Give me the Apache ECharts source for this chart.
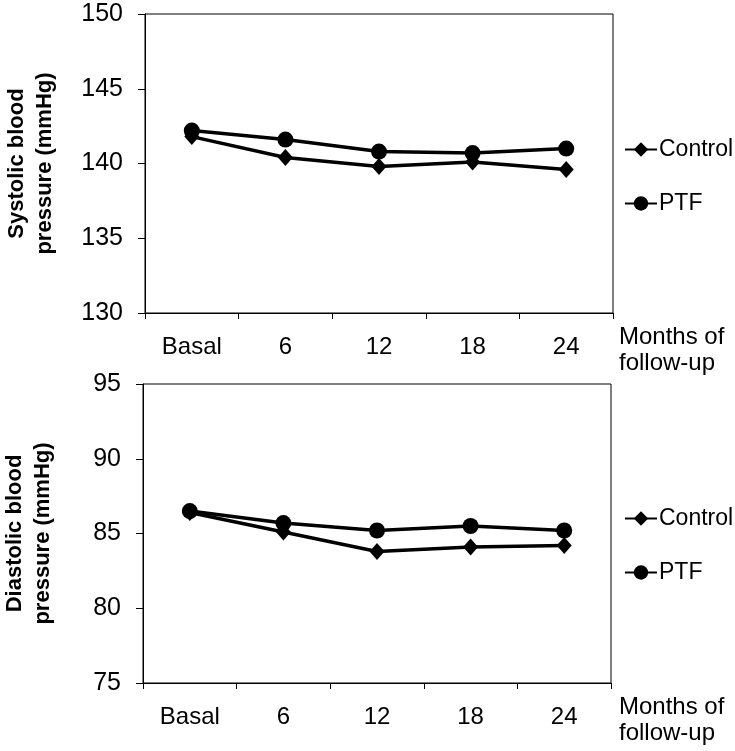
<!DOCTYPE html>
<html>
<head>
<meta charset="utf-8">
<script src="https://cdn.jsdelivr.net/npm/echarts@6/dist/echarts.min.js"></script>
<style>
html,body{margin:0;padding:0;background:#fff;}
#c{width:735px;height:751px;}
</style>
</head>
<body>
<div id="c"></div>
<script>
var categories = ['Basal', '6', '12', '18', '24'];
var seriesNames = ['Control', 'PTF'];
var systolicControl = [141.8, 140.4, 139.8, 140.1, 139.6];
var systolicPTF = [142.2, 141.6, 140.8, 140.7, 141.0];
var diastolicControl = [86.4, 85.1, 83.8, 84.1, 84.2];
var diastolicPTF = [86.5, 85.7, 85.2, 85.5, 85.2];
var systolicAxis = { min: 130, max: 150, interval: 5, title: 'Systolic blood\npressure (mmHg)' };
var diastolicAxis = { min: 75, max: 95, interval: 5, title: 'Diastolic blood\npressure (mmHg)' };
var xAxisTitle = 'Months of\nfollow-up';

var FONT = '"Liberation Sans", Arial, sans-serif';
var chart = echarts.init(document.getElementById('c'), null, { renderer: 'canvas' });

function xAxisCfg(gi) {
  return {
    type: 'category', gridIndex: gi, data: categories, boundaryGap: true,
    axisLine: { show: true, lineStyle: { color: '#000', width: 1 } },
    axisTick: { show: true, inside: false, length: 6, alignWithLabel: false, lineStyle: { color: '#000' } },
    axisLabel: { color: '#000', fontSize: 24, fontFamily: FONT, margin: 22 },
    splitLine: { show: false }
  };
}
function yAxisCfg(gi, ax) {
  return {
    type: 'value', gridIndex: gi, min: ax.min, max: ax.max, interval: ax.interval,
    name: ax.title, nameLocation: 'middle', nameRotate: 90, nameGap: 86,
    nameTextStyle: { color: '#000', fontSize: 22, fontWeight: 'bold', fontFamily: FONT, lineHeight: 28, align: 'center' },
    axisLine: { show: true, lineStyle: { color: '#000', width: 1 } },
    axisTick: { show: true, inside: false, length: 7, lineStyle: { color: '#000' } },
    axisLabel: { color: '#000', fontSize: 25, fontFamily: FONT, margin: 22 },
    splitLine: { show: false }
  };
}
function lineSeries(name, data, gi, sym, size) {
  return {
    name: name, type: 'line', xAxisIndex: gi, yAxisIndex: gi, data: data,
    symbol: sym, symbolSize: size, showAllSymbol: true,
    lineStyle: { color: '#000', width: 3.5 },
    itemStyle: { color: '#000', borderWidth: 0 },
    emphasis: { disabled: true }, animation: false, z: 3
  };
}
function legendCfg(top) {
  return {
    data: seriesNames, orient: 'vertical', left: 619, top: top,
    itemWidth: 32, itemHeight: 18, itemGap: 31, selectedMode: false,
    textStyle: { color: '#000', fontSize: 23, fontFamily: FONT, padding: [0, 0, 0, -3] }
  };
}

chart.setOption({
  animation: false,
  backgroundColor: '#fff',
  grid: [
    { left: 145, top: 14, width: 468, height: 299, show: true, borderColor: '#000', borderWidth: 1, backgroundColor: 'transparent', containLabel: false, outerBoundsMode: 'none' },
    { left: 143, top: 384, width: 468, height: 299, show: true, borderColor: '#000', borderWidth: 1, backgroundColor: 'transparent', containLabel: false, outerBoundsMode: 'none' }
  ],
  xAxis: [xAxisCfg(0), xAxisCfg(1)],
  yAxis: [yAxisCfg(0, systolicAxis), yAxisCfg(1, diastolicAxis)],
  legend: [legendCfg(133), legendCfg(502)],
  series: [
    lineSeries(seriesNames[0], systolicControl, 0, 'diamond', [15, 17]),
    lineSeries(seriesNames[1], systolicPTF, 0, 'circle', 16),
    lineSeries(seriesNames[0], diastolicControl, 1, 'diamond', [15, 17]),
    lineSeries(seriesNames[1], diastolicPTF, 1, 'circle', 16)
  ],
  graphic: [
    { type: 'text', left: 619, top: 324, style: { text: xAxisTitle, fill: '#000', font: '24px ' + FONT, lineHeight: 26, align: 'left' } },
    { type: 'text', left: 619, top: 694, style: { text: xAxisTitle, fill: '#000', font: '24px ' + FONT, lineHeight: 26, align: 'left' } }
  ]
});
</script>
</body>
</html>
